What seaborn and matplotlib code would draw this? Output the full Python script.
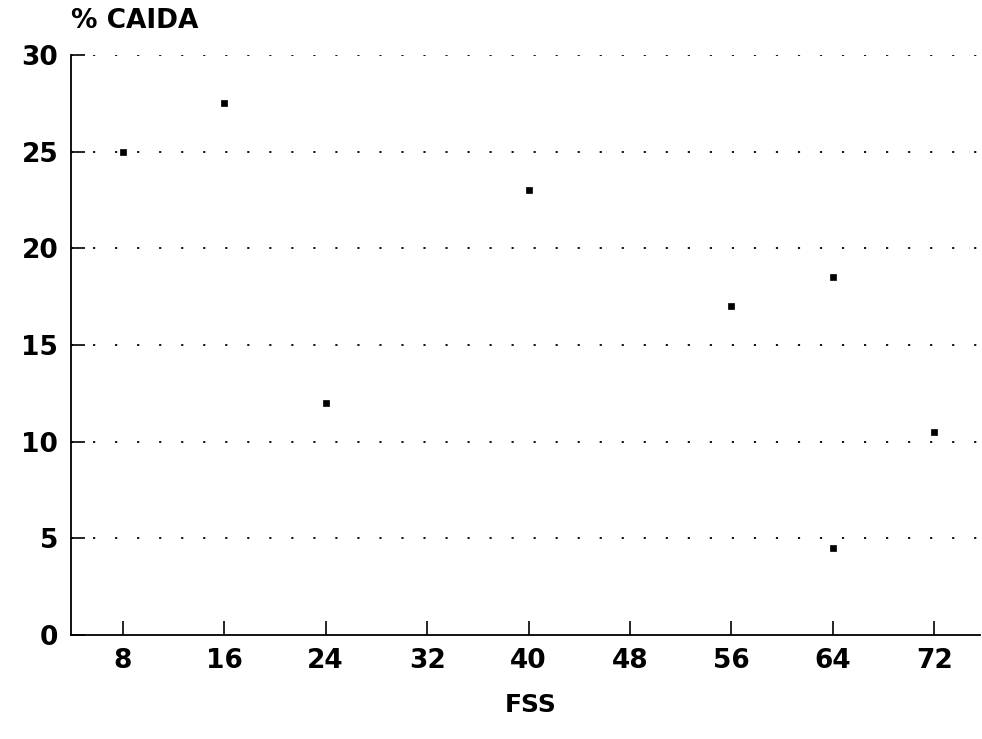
import seaborn as sns
import matplotlib.pyplot as plt
import pandas as pd

# Data
fss = [8, 16, 24, 40, 56, 64, 64, 72]
caida = [25, 27.5, 12, 23, 17, 18.5, 4.5, 10.5]
x_ticks = [8, 16, 24, 32, 40, 48, 56, 64, 72]
y_ticks = [0, 5, 10, 15, 20, 25, 30]

df = pd.DataFrame({'FSS': fss, 'CAIDA': caida})

sns.set_style('white')
plt.rcParams['font.family'] = ['DejaVu Sans']
plt.rcParams['text.color'] = 'black'
plt.rcParams['xtick.color'] = 'black'
plt.rcParams['ytick.color'] = 'black'

fig = plt.figure(figsize=(9.82, 7.39), dpi=100)
ax = fig.add_axes([0.072, 0.1407, 0.926, 0.785])

# Dotted horizontal grid
for y in y_ticks[1:]:
    ax.axhline(y, color='black', linestyle=(0, (1.2, 11)), linewidth=1.3, zorder=0)

sns.scatterplot(x='FSS', y='CAIDA', data=df, marker='s', s=22, color='black',
                edgecolor='black', linewidth=0.5, ax=ax, zorder=3)

ax.set_xlim(3.9, 75.6)
ax.set_ylim(0, 30)
ax.set_xticks(x_ticks)
ax.set_yticks(y_ticks)
ax.tick_params(axis='both', direction='in', length=10, width=1.2, color='black',
               labelsize=19, pad=9, bottom=True, left=True, labelcolor='black')
for lab in ax.get_xticklabels() + ax.get_yticklabels():
    lab.set_fontweight('bold')

sns.despine(ax=ax, top=True, right=True)
ax.spines['left'].set_linewidth(1.3)
ax.spines['bottom'].set_linewidth(1.3)
ax.spines['left'].set_color('black')
ax.spines['bottom'].set_color('black')

ax.set_xlabel('')
ax.set_ylabel('')
fig.text(0.072, 0.972, '% CAIDA', ha='left', va='center', fontsize=19,
         fontweight='bold', color='black')
fig.text(0.54, 0.046, 'FSS', ha='center', va='center', fontsize=18,
         fontweight='bold', color='black')

plt.savefig("out.png", dpi=100)
